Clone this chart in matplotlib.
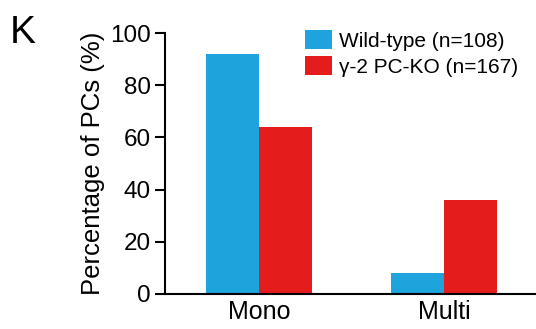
import matplotlib.pyplot as plt
import numpy as np

plt.rcParams['font.family'] = ['Liberation Sans', 'DejaVu Sans']

categories = ['Mono', 'Multi']
wild_type = [92, 8]
pc_ko = [64, 36]
labels = ['Wild-type (n=108)', 'γ-2 PC-KO (n=167)']
yticks = [0, 20, 40, 60, 80, 100]

blue = '#1FA3DC'
red = '#E41C1C'

fig = plt.figure(figsize=(5.36, 3.29), dpi=100)
ax = fig.add_axes([165/536, 1-294/329, 1-165/536, (294-33)/329])

x = np.arange(len(categories))
w = 0.287
ax.bar(x - w/2, wild_type, w, color=blue, label=labels[0])
ax.bar(x + w/2, pc_ko, w, color=red, label=labels[1])

ax.set_xlim(-0.508, 1.497)
ax.set_ylim(0, 100)
ax.set_yticks(yticks)
ax.set_xticks(x)
ax.set_xticklabels(categories)
ax.tick_params(axis='y', length=7, width=1.5, labelsize=17.5, pad=3)
ax.tick_params(axis='x', length=0, labelsize=18, pad=4)
for s in ['top', 'right']:
    ax.spines[s].set_visible(False)
ax.spines['left'].set_linewidth(1.5)
ax.spines['bottom'].set_linewidth(1.5)
ax.set_ylabel('Percentage of PCs (%)', fontsize=18.5, labelpad=4)

ax.legend(loc='upper left', bbox_to_anchor=(0.377, 1.01), frameon=False,
          fontsize=15, handlelength=1.3, handleheight=1.0,
          handletextpad=0.35, labelspacing=0.25, borderaxespad=0,
          borderpad=0)

fig.text(10/536, 1-43/329, 'K', fontsize=28, va='baseline', ha='left')

fig.savefig('out.png', dpi=100)
